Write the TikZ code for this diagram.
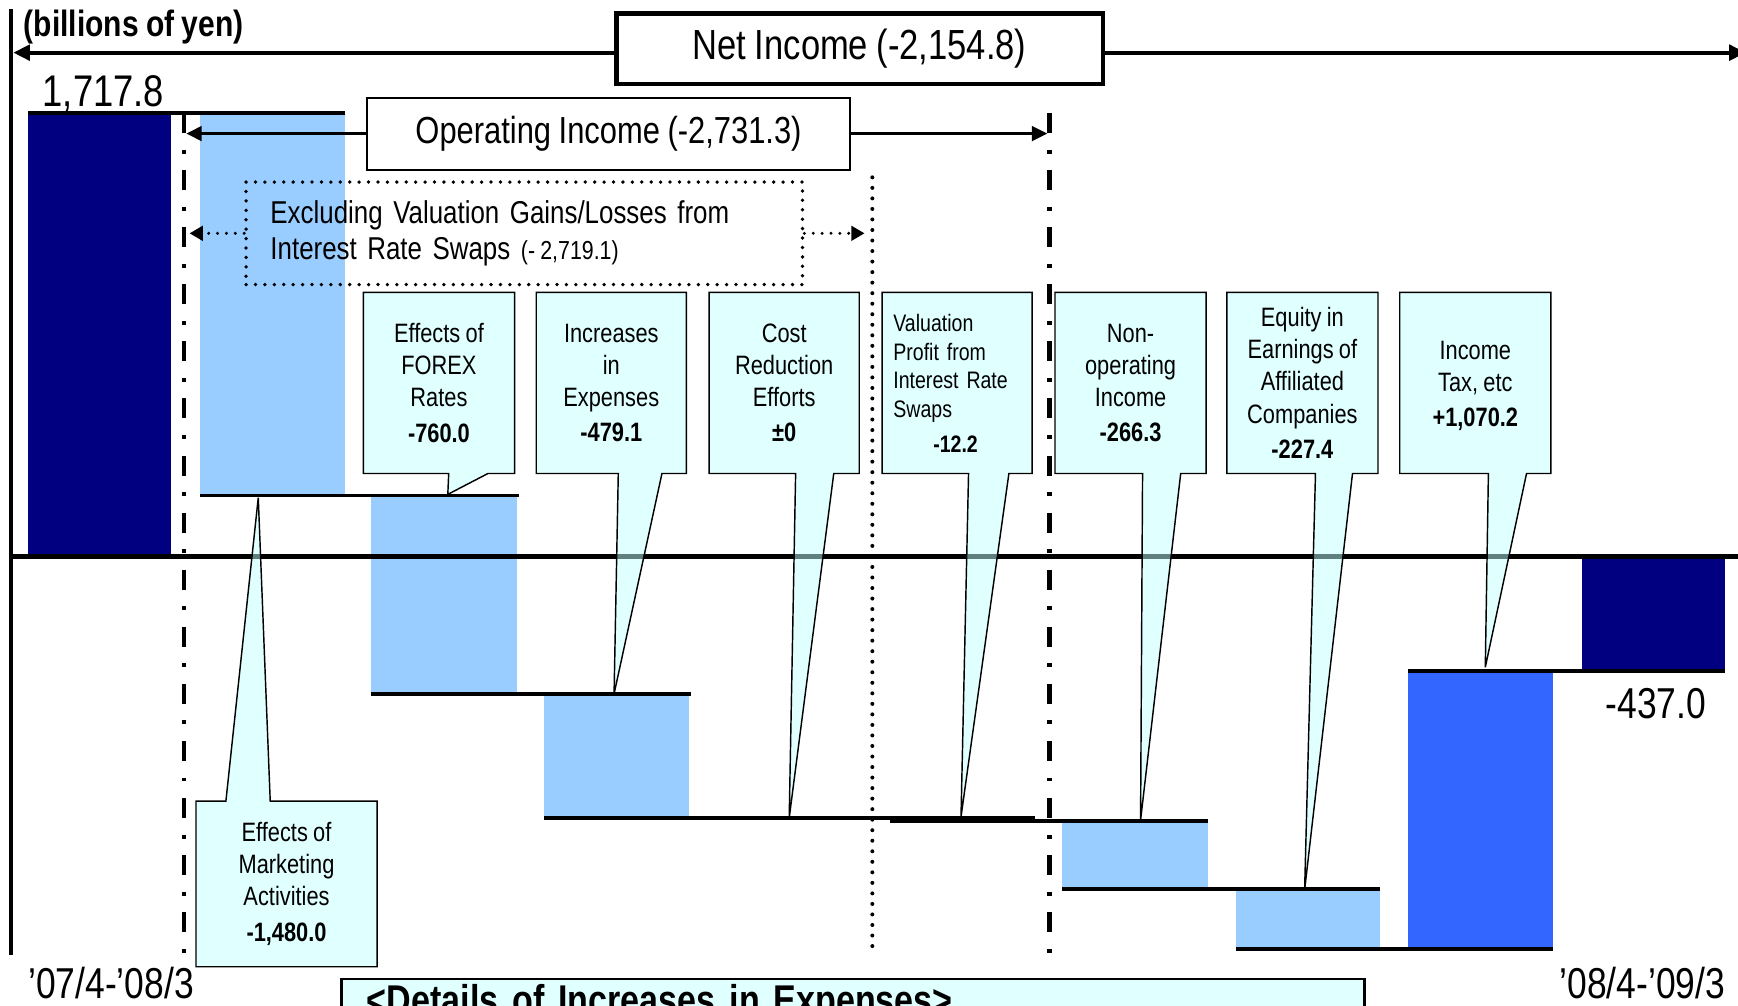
\documentclass[tikz,border=0pt]{standalone}
\usepackage{fontspec}
\setmainfont{Liberation Sans}[FakeStretch=0.82]
\usetikzlibrary{arrows.meta}
\pgfdeclarelayer{back}
\pgfdeclarelayer{mid}
\pgfsetlayers{back,mid,main}
\definecolor{navybar}{RGB}{0,0,128}
\definecolor{lightbar}{RGB}{153,204,255}
\definecolor{taxbar}{RGB}{51,102,255}
\definecolor{notecyan}{RGB}{193,255,255}
\definecolor{detailcyan}{RGB}{224,255,255}
\newcommand{\txtsize}[2]{\fontsize{#1}{#2}\selectfont\spaceskip=0.2em\relax}

\begin{document}
\begin{tikzpicture}[x=1pt, y=-1pt,
    stepline/.style={line width=3.5pt},
    chainline/.style={line width=4pt, dash pattern=on 18pt off 15pt on 3.5pt off 15pt},
    dotline/.style={line width=3.6pt, line cap=round, dash pattern=on 0pt off 9.5pt},
    bigarrow/.style={line width=3.5pt, -{Triangle[length=15pt, width=14pt]}},
    oparrow/.style={line width=3pt, -{Triangle[length=14pt, width=13pt]}},
    dotarrow/.style={line width=3pt, line cap=round, dash pattern=on 0pt off 8pt, -{Triangle[length=12pt, width=13pt]}},
    balloon/.style={draw=black, line width=1.3pt, fill=notecyan, fill opacity=0.5},
    note/.style={align=center, inner sep=0pt, minimum width=136pt, minimum height=163pt, font=\txtsize{24}{29}}]

  \useasboundingbox (0,0) rectangle (1568,907);

  \node [anchor=base west, font=\bfseries\txtsize{33}{40}] (unit) at (18,33) {(billions of yen)};
  \node [draw, line width=4pt, fill=white, minimum width=439pt, minimum height=64pt, font=\txtsize{38}{44}] (net) at (775.5,44) {Net Income (-2,154.8)};
  \node [draw, line width=2pt, fill=white, minimum width=436pt, minimum height=65pt, font=\txtsize{34}{40}] (op) at (549,121) {Operating Income (-2,731.3)};
  \node [draw, line width=3.4pt, line cap=round, dash pattern=on 0pt off 8.5pt, text width=458pt, inner xsep=22pt, minimum height=92.5pt, align=left, font=\txtsize{28.5}{33}] (excl) at (473,210.5) {
    Excluding Valuation Gains/Losses from\\
    Interest Rate Swaps {\txtsize{23.5}{33}(- 2,719.1)}
  };
  \node [anchor=base west, font=\txtsize{40}{48}] (open) at (35,96) {1,717.8};
  \node [anchor=base west, font=\txtsize{39}{47}] (close) at (1445,648) {-437.0};
  \node [anchor=base west, font=\txtsize{39}{47}] (prev) at (22,901) {'07/4-'08/3};
  \node [anchor=base east, font=\txtsize{39}{47}] (curr) at (1560,901) {'08/4-'09/3};
  \node [draw, line width=2pt, fill=detailcyan, anchor=north west, text width=877pt, inner xsep=23pt, inner ysep=5pt, align=left, font=\bfseries\txtsize{37.5}{46}] (details) at (307,882) {<Details of Increases in Expenses>};

  \node [note] (forex) at (396,345.5) {Effects of\\FOREX\\Rates\\[3pt]\textbf{-760.0}};
  \node [note, minimum width=135pt] (expenses) at (551.5,345.5) {Increases\\in\\Expenses\\[3pt]\textbf{-479.1}};
  \node [note, minimum width=135pt] (cost) at (707.5,345.5) {Cost\\Reduction\\Efforts\\[3pt]\textbf{±0}};
  \node [note, minimum width=135pt, text width=115pt, inner xsep=10pt, align=left, font=\txtsize{21.5}{26}] (swaps) at (863.5,345.5) {
    Valuation\\Profit from\\Interest Rate\\Swaps\\[5pt]
    \hspace*{36pt}\textbf{-12.2}
  };
  \node [note] (nonop) at (1020,345.5) {Non-\\operating\\Income\\[3pt]\textbf{-266.3}};
  \node [note] (equity) at (1175,345.5) {Equity in\\Earnings of\\Affiliated\\Companies\\[3pt]\textbf{-227.4}};
  \node [note] (tax) at (1331,348) {Income\\Tax, etc\\[3pt]\textbf{+1,070.2}};
  \node [note, minimum width=163pt, minimum height=149pt] (marketing) at (258.5,797.5) {Effects of\\Marketing\\Activities\\[3pt]\textbf{-1,480.0}};

  \coordinate (forextip) at (404,446);
  \coordinate (expensestip) at (554,626);
  \coordinate (costtip) at (712,738);
  \coordinate (swapstip) at (867,737);
  \coordinate (noptip) at (1029,740);
  \coordinate (equitytip) at (1177,803);
  \coordinate (taxtip) at (1340,602);
  \coordinate (markettip) at (233,449);
  \coordinate (netleft) at (12,47.5);
  \coordinate (netright) at (1575,47.5);
  \coordinate (opleft) at (168,120.5);
  \coordinate (opright) at (945,120.5);
  \coordinate (exleft) at (171,210.5);
  \coordinate (exright) at (780,210.5);

  \begin{pgfonlayer}{back}
    \fill [navybar] (25,102) rectangle (154,502);
    \fill [lightbar] (180,102) rectangle (311,447);
    \fill [lightbar] (335,447) rectangle (466,626);
    \fill [lightbar] (491,626) rectangle (622,738);
    \fill [lightbar] (803,738) rectangle (934,741);
    \fill [lightbar] (958,741) rectangle (1090,802);
    \fill [lightbar] (1115,802) rectangle (1245,856);
    \fill [taxbar] (1270,605) rectangle (1401,856);
    \fill [navybar] (1427,502) rectangle (1556,605);

    \draw [stepline] (25,102) -- (311,102);
    \draw [stepline] (180,447) -- (468,447);
    \draw [stepline] (335,626) -- (623,626);
    \draw [stepline] (491,738) -- (778,738);
    \draw [stepline] (647,738) -- (934,738);
    \draw [stepline] (803,741) -- (1090,741);
    \draw [stepline] (958,802) -- (1245,802);
    \draw [stepline] (1115,856) -- (1401,856);
    \draw [stepline] (1270,605) -- (1556,605);

    \draw [line width=4.5pt] (10,502) -- (1568,502);
    \draw [line width=4pt] (10,8) -- (10,862);
    \draw [chainline] (166,102) -- (166,862);
    \draw [chainline] (947,102) -- (947,862);
    \draw [dotline] (787,160) -- (787,858);

    \draw [bigarrow] ([yshift=-3.5pt]net.west) -- (netleft);
    \draw [bigarrow] ([yshift=-3.5pt]net.east) -- (netright);
    \draw [oparrow] ([yshift=0.5pt]op.west) -- (opleft);
    \draw [oparrow] ([yshift=0.5pt]op.east) -- (opright);
    \draw [dotarrow] (excl.west) -- (exleft);
    \draw [dotarrow] (excl.east) -- (exright);
  \end{pgfonlayer}

  \begin{pgfonlayer}{mid}
    \draw [balloon] (forex.north west) -- (forex.north east) -- (forex.south east) -- ++(-24,0) -- (forextip) -- ([xshift=77pt]forex.south west) -- (forex.south west) -- cycle;
    \draw [balloon] (expenses.north west) -- (expenses.north east) -- (expenses.south east) -- ++(-22,0) -- (expensestip) -- ([xshift=74pt]expenses.south west) -- (expenses.south west) -- cycle;
    \draw [balloon] (cost.north west) -- (cost.north east) -- (cost.south east) -- ++(-23,0) -- (costtip) -- ([xshift=78pt]cost.south west) -- (cost.south west) -- cycle;
    \draw [balloon] (swaps.north west) -- (swaps.north east) -- (swaps.south east) -- ++(-21,0) -- (swapstip) -- ([xshift=78pt]swaps.south west) -- (swaps.south west) -- cycle;
    \draw [balloon] (nonop.north west) -- (nonop.north east) -- (nonop.south east) -- ++(-23,0) -- (noptip) -- ([xshift=79pt]nonop.south west) -- (nonop.south west) -- cycle;
    \draw [balloon] (equity.north west) -- (equity.north east) -- (equity.south east) -- ++(-23,0) -- (equitytip) -- ([xshift=80pt]equity.south west) -- (equity.south west) -- cycle;
    \draw [balloon] ([yshift=2.5pt]tax.north west) -- ([yshift=2.5pt]tax.north east) -- ([yshift=2.5pt]tax.south east) -- ++(-22,0) -- (taxtip) -- ([xshift=80pt, yshift=2.5pt]tax.south west) -- ([yshift=2.5pt]tax.south west) -- cycle;
    \draw [balloon] (marketing.north west) -- ([xshift=27pt]marketing.north west) -- (markettip) -- ([xshift=67pt]marketing.north west) -- (marketing.north east) -- (marketing.south east) -- (marketing.south west) -- cycle;
  \end{pgfonlayer}
\end{tikzpicture}
\end{document}
